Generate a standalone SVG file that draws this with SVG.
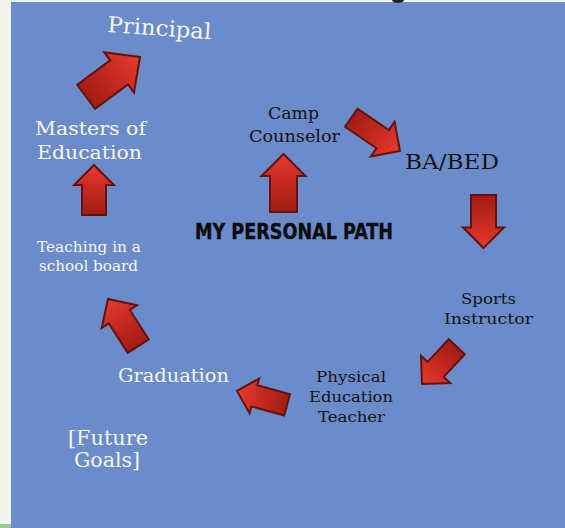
<svg xmlns="http://www.w3.org/2000/svg" width="565" height="528" viewBox="0 0 565 528">
<style>
.lbl{font-family:"DejaVu Serif","Liberation Serif",serif;}
.w{fill:#f6f6f4;}
.k{fill:#141414;}
.title{font-family:"DejaVu Sans Condensed","DejaVu Sans","Liberation Sans",sans-serif;font-weight:bold;font-stretch:condensed;fill:#0c0c0c;stroke:#0c0c0c;stroke-width:0.4;}
.arr{fill:url(#red);stroke:#62130e;stroke-width:2;stroke-linejoin:miter;}
</style>
<defs>
<linearGradient id="red" x1="0" y1="0" x2="1" y2="0">
<stop offset="0" stop-color="#a11c15"/>
<stop offset="0.6" stop-color="#cd2c22"/>
<stop offset="1" stop-color="#e63b2f"/>
</linearGradient>
</defs>
<rect x="0" y="0" width="565" height="528" fill="#f4f4ee"/>
<rect x="0" y="524" width="11" height="4" fill="#9cc59a"/>
<rect x="11" y="2" width="554" height="526" fill="#6b8bca"/>
<ellipse cx="398" cy="0" rx="6" ry="3" fill="#222222"/>

<g id="connectors">
<polygon class="arr" transform="translate(140,57) rotate(-36.5)" points="0,0 -26,-25 -26,-15 -67,-15 -67,15 -26,15 -26,25"/>
<polygon class="arr" transform="translate(94,165) rotate(-90)" points="0,0 -20,-20 -20,-12 -50,-12 -50,12 -20,12 -20,20"/>
<polygon class="arr" transform="translate(108,299) rotate(-122.7)" points="0,0 -21,-21 -21,-12.5 -56,-12.5 -56,12.5 -21,12.5 -21,21"/>
<polygon class="arr" transform="translate(237,391) rotate(195.5)" points="0,0 -18,-18 -18,-11 -52,-11 -52,11 -18,11 -18,18"/>
<polygon class="arr" transform="translate(422,384) rotate(133)" points="0,0 -20,-20 -20,-11 -51,-11 -51,11 -20,11 -20,20"/>
<polygon class="arr" transform="translate(483.5,248) rotate(90)" points="0,0 -20.5,-20.5 -20.5,-12.5 -53,-12.5 -53,12.5 -20.5,12.5 -20.5,20.5"/>
<polygon class="arr" transform="translate(400,151) rotate(34.4)" points="0,0 -21,-21 -21,-11 -59,-11 -59,11 -21,11 -21,21"/>
<polygon class="arr" transform="translate(283.5,154) rotate(-90)" points="0,0 -22,-22 -22,-13.5 -58,-13.5 -58,13.5 -22,13.5 -22,22"/>
</g>

<g id="node-principal">
<text class="lbl w" x="107" y="32" font-size="22" textLength="104" lengthAdjust="spacingAndGlyphs" transform="rotate(4 107 32)">Principal</text>
</g>
<g id="node-masters">
<text class="lbl w" x="35" y="135" font-size="19" textLength="111" lengthAdjust="spacingAndGlyphs">Masters of</text>
<text class="lbl w" x="37" y="159" font-size="19" textLength="105" lengthAdjust="spacingAndGlyphs">Education</text>
</g>
<g id="node-teaching">
<text class="lbl w" x="37" y="252" font-size="14.5" textLength="104" lengthAdjust="spacingAndGlyphs">Teaching in a</text>
<text class="lbl w" x="39" y="271" font-size="14.5" textLength="99" lengthAdjust="spacingAndGlyphs">school board</text>
</g>
<g id="node-graduation">
<text class="lbl w" x="118" y="382" font-size="19" textLength="111" lengthAdjust="spacingAndGlyphs">Graduation</text>
</g>
<g id="node-future">
<text class="lbl w" x="68" y="445" font-size="20" textLength="80" lengthAdjust="spacingAndGlyphs">[Future</text>
<text class="lbl w" x="74" y="467" font-size="20" textLength="66" lengthAdjust="spacingAndGlyphs">Goals]</text>
</g>
<g id="node-camp">
<text class="lbl k" x="268" y="119" font-size="16" textLength="51" lengthAdjust="spacingAndGlyphs">Camp</text>
<text class="lbl k" x="249" y="142" font-size="16" textLength="91" lengthAdjust="spacingAndGlyphs">Counselor</text>
</g>
<g id="node-babed">
<text class="lbl k" x="405" y="169" font-size="21" textLength="94" lengthAdjust="spacingAndGlyphs">BA/BED</text>
</g>
<g id="node-sports">
<text class="lbl k" x="461" y="304" font-size="15.5" textLength="55" lengthAdjust="spacingAndGlyphs">Sports</text>
<text class="lbl k" x="444" y="324" font-size="15.5" textLength="89" lengthAdjust="spacingAndGlyphs">Instructor</text>
</g>
<g id="node-pe">
<text class="lbl k" x="316" y="382" font-size="15.5" textLength="70" lengthAdjust="spacingAndGlyphs">Physical</text>
<text class="lbl k" x="309" y="402" font-size="15.5" textLength="84" lengthAdjust="spacingAndGlyphs">Education</text>
<text class="lbl k" x="318" y="422" font-size="15.5" textLength="67" lengthAdjust="spacingAndGlyphs">Teacher</text>
</g>
<g id="node-title">
<text class="title" x="195" y="239" font-size="22" textLength="198" lengthAdjust="spacingAndGlyphs">MY PERSONAL PATH</text>
</g>
</svg>
